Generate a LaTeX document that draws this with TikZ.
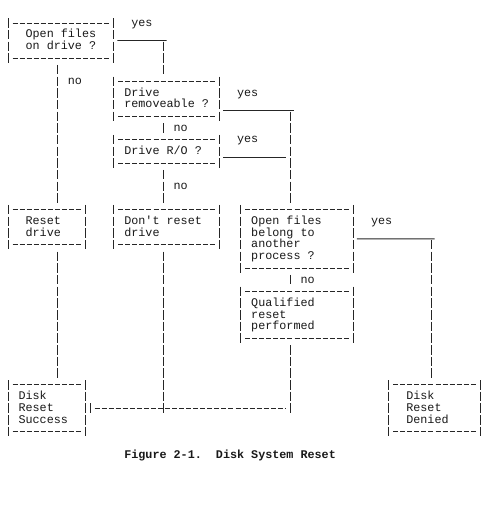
\documentclass[tikz,border=0pt]{standalone}
\usepackage{fontspec}
\setmonofont{Liberation Mono}
\usetikzlibrary{fit}
\begin{document}
\begin{tikzpicture}[x=7.05pt,y=-11.67pt,
  frame/.style={inner sep=0pt, outer sep=0pt, draw=none},
  txt/.style={inner sep=0pt, outer sep=0pt, anchor=base west, align=left, text=black!90,
    font=\ttfamily\fontsize{11.75pt}{11.67pt}\selectfont\frenchspacing},
  captxt/.style={txt, font=\ttfamily\bfseries\fontsize{11.75pt}{11.67pt}\selectfont\frenchspacing},
  bar/.style={draw=black!85, line width=0.85pt, dash pattern=on 9.5pt off 2.17pt, dash phase=10.585pt},
  hd/.style={draw=black!85, line width=0.85pt, dash pattern=on 5pt off 2.05pt, dash phase=6.05pt},
  us/.style={draw=black!85, line width=0.85pt}]
\path[use as bounding box, fill=white] (-1.1348,-1.9709) rectangle (70.0709,42.2451);

% ---- boxes (frames)
\node[frame, fit={(0,0) (15,3)}]    (b1) {};
\node[frame, fit={(15,5) (30,8)}]   (b2) {};
\node[frame, fit={(15,10) (30,12)}] (b3) {};
\node[frame, fit={(0,16) (11,19)}]  (b4) {};
\node[frame, fit={(15,16) (30,19)}] (b5) {};
\node[frame, fit={(33,16) (49,21)}] (b6) {};
\node[frame, fit={(33,23) (49,27)}] (b7) {};
\node[frame, fit={(0,31) (11,35)}]  (b8) {};
\node[frame, fit={(54,31) (67,35)}] (b9) {};

\foreach \n in {b1,b2,b3,b4,b5,b6,b7,b8,b9}{
  \draw[hd] ([xshift=3.525pt]\n.north west) -- ([xshift=-3.525pt]\n.north east);
  \draw[hd] ([xshift=3.525pt]\n.south west) -- ([xshift=-3.525pt]\n.south east);
  \draw[bar] ([yshift=5.835pt]\n.north west) -- ([yshift=-5.835pt]\n.south west);
  \draw[bar] ([yshift=5.835pt]\n.north east) -- ([yshift=-5.835pt]\n.south east);
}

% ---- box texts (anchored at the baseline of the last line)
\node[txt] (b1t) at (2.5,2.28)  {Open files\\on drive ?};
\node[txt] (b2t) at (16.5,7.28) {Drive\\removeable ?};
\node[txt] (b3t) at (16.5,11.28) {Drive R/O ?};
\node[txt] (b4t) at (2.5,18.28) {Reset\\drive};
\node[txt] (b5t) at (16.5,18.28) {Don't reset\\drive};
\node[txt] (b6t) at (34.5,20.28) {Open files\\belong to\\another\\process ?};
\node[txt] (b7t) at (34.5,26.28) {Qualified\\reset\\performed};
\node[txt] (b8t) at (1.5,34.28) {Disk\\Reset\\Success};
\node[txt] (b9t) at (56.5,34.28) {Disk\\Reset\\Denied};

% ---- junction coordinates
\coordinate (j1) at (22,1.5);
\coordinate (j2) at (40,7.5);
\coordinate (j3) at (40,11.5);
\coordinate (j4) at (60,18.5);
\coordinate (j5) at (40,33);
\coordinate (j6) at (11.63,33);
\coordinate (c7) at (7,3.5);

% ---- yes branches (underscores + bars)
\draw[us] ([xshift=3.525pt]b1.east) -- ([xshift=3.525pt]j1);
\draw[bar] (j1) -- ([yshift=5.835pt]b2.north -| j1);
\draw[us] ([xshift=3.525pt]b2.north east |- j2) -- ([xshift=3.525pt]j2);
\draw[bar] (j2) -- ([yshift=5.835pt]b6.north -| j2);
\draw[us] ([xshift=3.525pt]b3.north east |- j3) -- ([xshift=-3.525pt]j3);
\draw[us] ([xshift=3.525pt]b6.east) -- ([xshift=3.525pt]j4);
\draw[bar] (j4) -- ([yshift=5.835pt]b9.north -| j4);

% ---- no branches
\draw[bar] (c7) -- ([yshift=5.835pt]b4.north -| c7);
\draw[bar] ([yshift=-5.835pt]b2.south -| j1) -- ([yshift=5.835pt]b3.north -| j1);
\draw[bar] ([yshift=-5.835pt]b3.south -| j1) -- ([yshift=5.835pt]b5.north -| j1);
\draw[bar] ([yshift=-5.835pt]b6.south -| j2) -- ([yshift=5.835pt]b7.north -| j2);

% ---- to the end boxes
\draw[bar] ([yshift=-5.835pt]b4.south -| c7) -- ([yshift=5.835pt]b8.north -| c7);
\draw[bar] ([yshift=-5.835pt]b5.south -| j1) -- ([yshift=-5.835pt]j6 -| j1);
\draw[bar] ([yshift=-5.835pt]b7.south -| j2) -- ([yshift=-5.835pt]j5);
\draw[bar] ([yshift=5.835pt]j6) -- ([yshift=-5.835pt]j6);
\draw[hd] ([xshift=3.525pt]j6) -- ([xshift=-3.525pt]j5);

% ---- labels
\node[txt] (y1) at (17.5,0.28)  {yes};
\node[txt] (n1) at (8.5,5.28)   {no};
\node[txt] (y2) at (32.5,6.28)  {yes};
\node[txt] (n2) at (23.5,9.28)  {no};
\node[txt] (y3) at (32.5,10.28) {yes};
\node[txt] (n3) at (23.5,14.28) {no};
\node[txt] (y4) at (51.5,17.28) {yes};
\node[txt] (n4) at (41.5,22.28) {no};

% ---- caption
\node[captxt] (caption) at (16.5,37.28) {Figure 2-1.~~Disk System Reset};
\end{tikzpicture}
\end{document}
